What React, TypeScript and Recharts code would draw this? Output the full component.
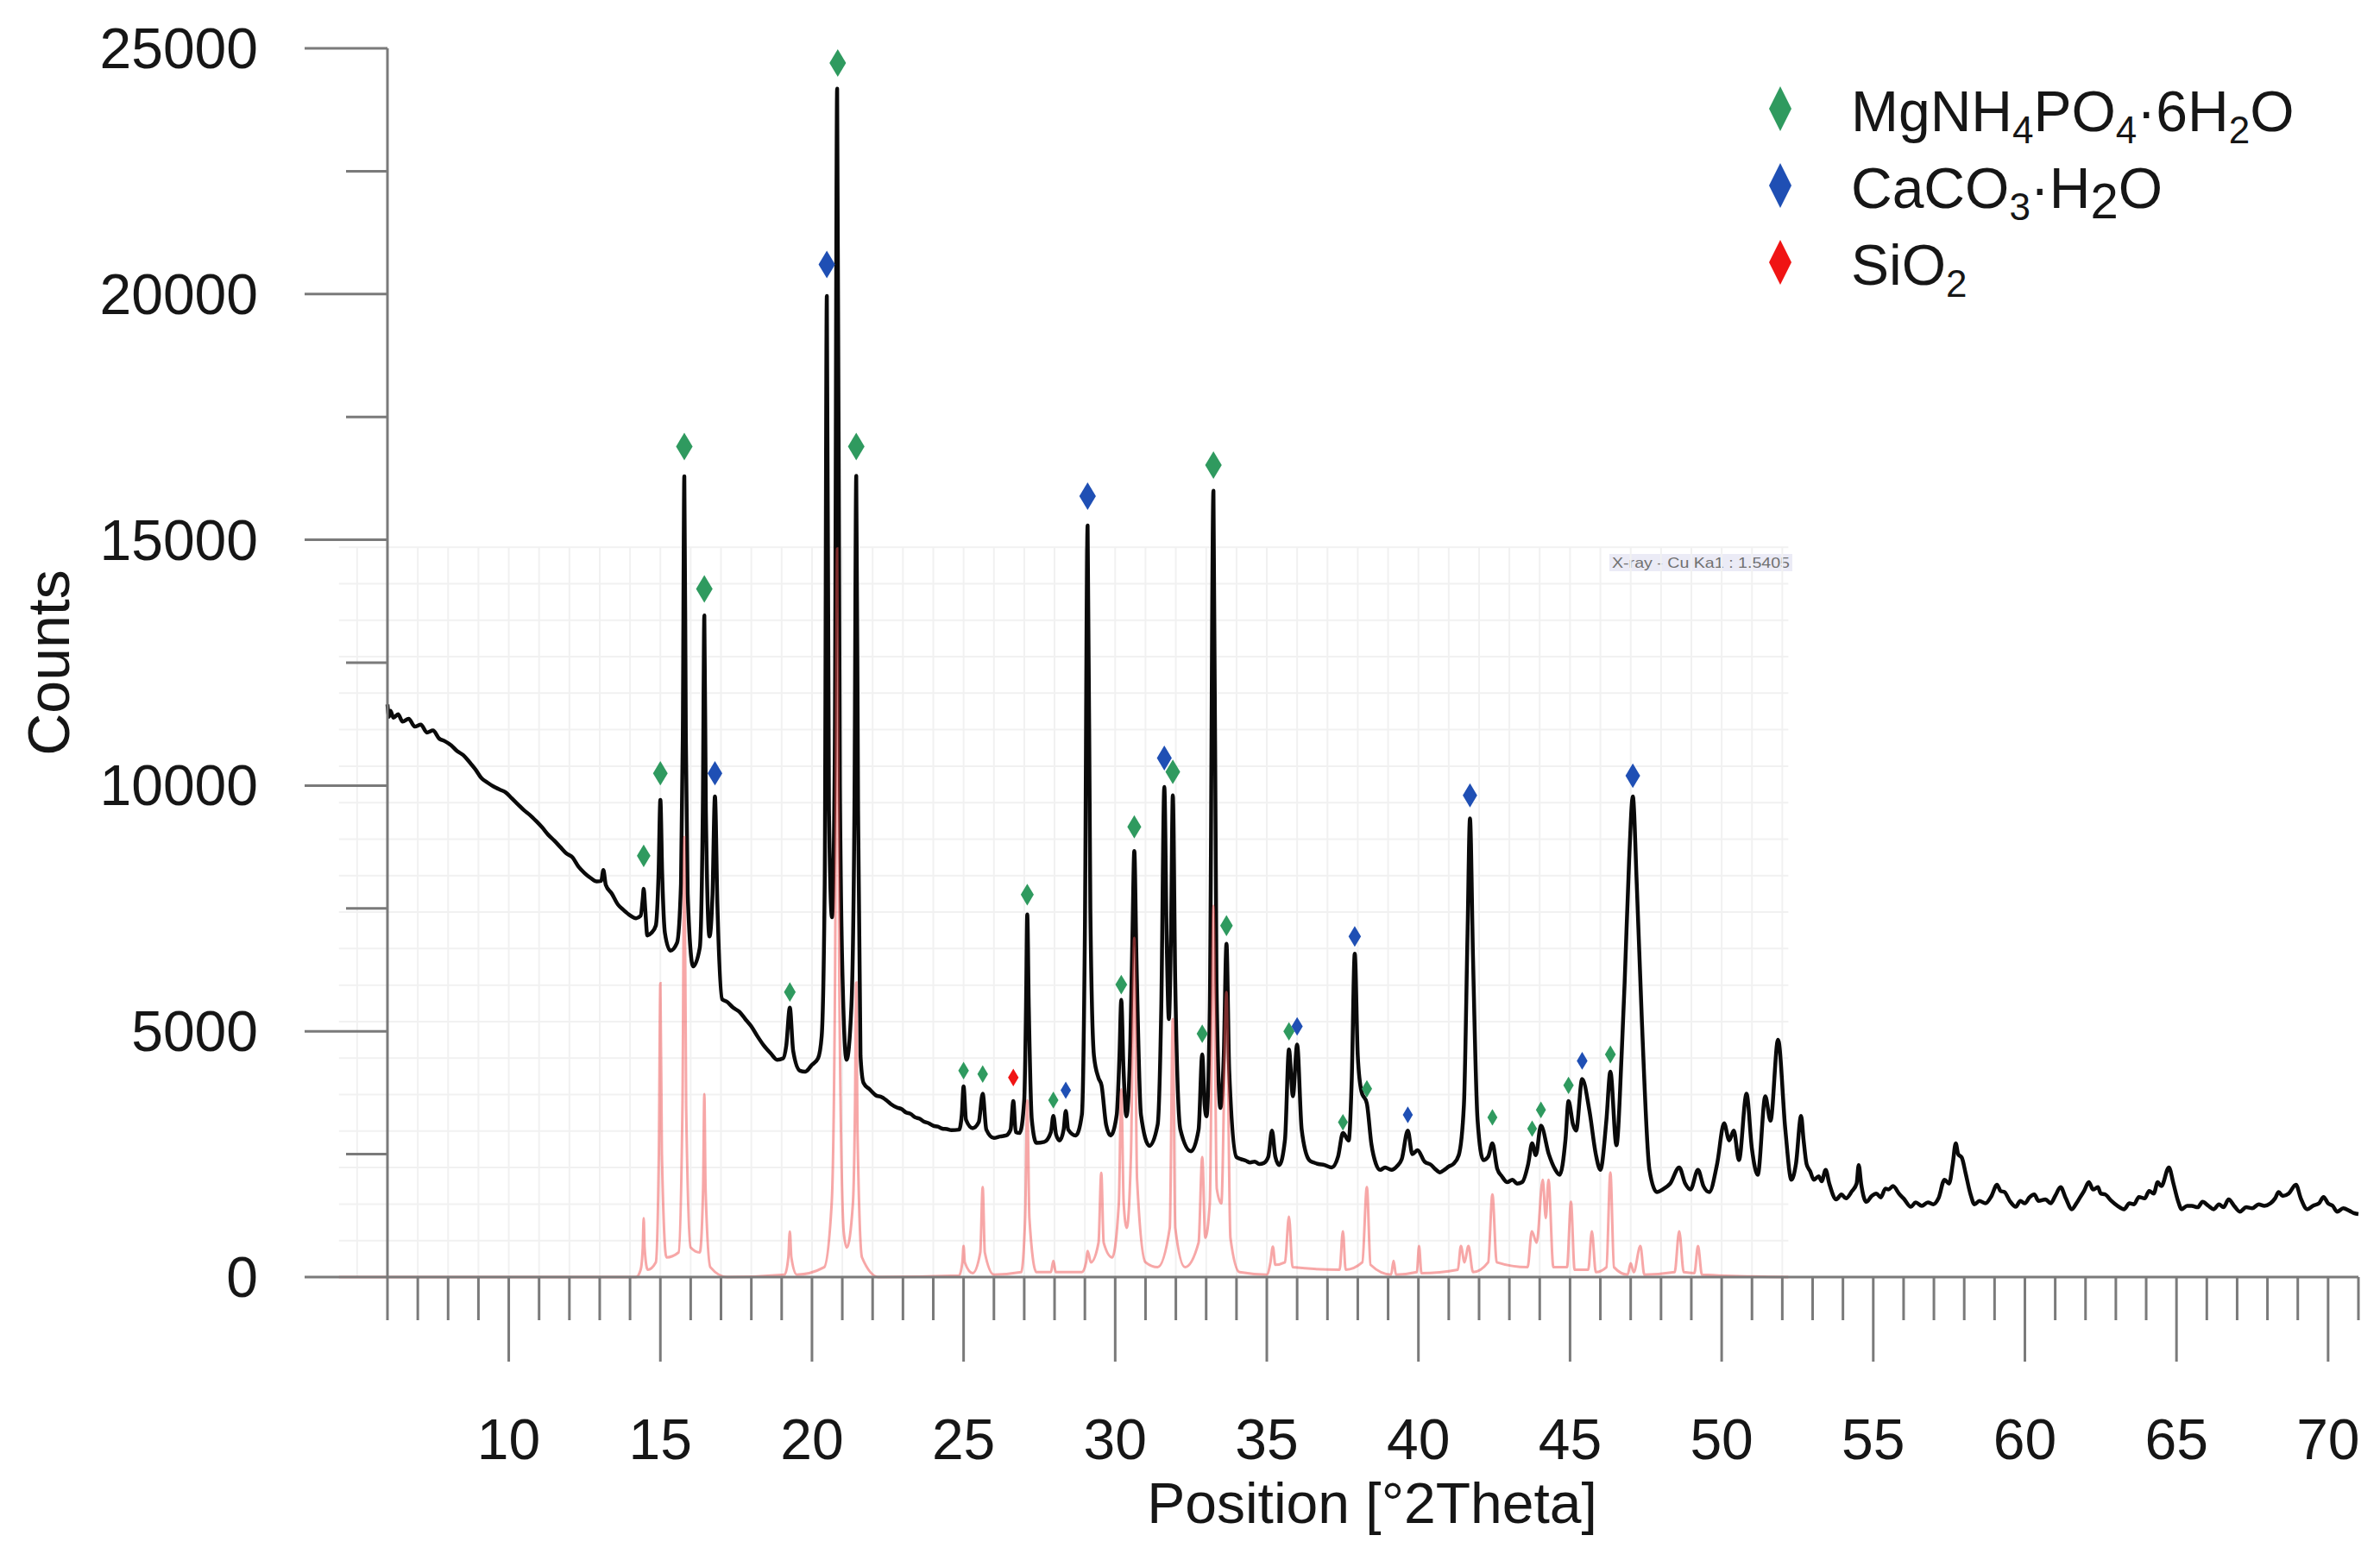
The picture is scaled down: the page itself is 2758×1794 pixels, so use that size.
import React from "react"
import { ComposedChart, Customized, Line, ReferenceLine, Scatter, XAxis, YAxis } from "recharts"

// measured pattern, [°2θ, counts]
const sampleScan: [number, number][] = [
    [6.0, 11650], [6.05, 11400], [6.1, 11520], [6.2, 11380], [6.35, 11450], [6.5, 11300], [6.7, 11360],
    [6.9, 11200], [7.1, 11240], [7.3, 11080], [7.5, 11120], [7.7, 10960], [7.9, 10900], [8.1, 10820],
    [8.3, 10700], [8.5, 10620], [8.7, 10480], [8.9, 10330], [9.1, 10150], [9.3, 10060], [9.5, 9980],
    [9.7, 9920], [9.9, 9860], [10.1, 9740], [10.3, 9620], [10.5, 9500], [10.7, 9400], [10.9, 9280],
    [11.1, 9150], [11.3, 9000], [11.5, 8880], [11.7, 8750], [11.9, 8620], [12.1, 8540], [12.3, 8350],
    [12.5, 8220], [12.7, 8120], [12.9, 8050], [13.05, 8060], [13.12, 8280], [13.2, 7980], [13.4, 7800],
    [13.6, 7580], [13.8, 7460], [14.0, 7360], [14.2, 7300], [14.35, 7350], [14.42, 7700], [14.45, 7900],
    [14.5, 7500], [14.57, 6950], [14.7, 7000], [14.85, 7150], [14.94, 8200], [15.0, 9710], [15.06, 8200],
    [15.15, 7000], [15.33, 6640], [15.55, 6800], [15.68, 8000], [15.74, 11000], [15.79, 16290],
    [15.84, 11000], [15.9, 7800], [16.08, 6320], [16.3, 6700], [16.4, 9500], [16.45, 13460], [16.5, 9500],
    [16.62, 6930], [16.72, 7800], [16.8, 9780], [16.88, 7600], [17.04, 5650], [17.2, 5600], [17.4, 5480],
    [17.6, 5400], [17.8, 5250], [18.0, 5100], [18.2, 4900], [18.4, 4720], [18.64, 4550], [18.85, 4420],
    [19.05, 4450], [19.15, 4700], [19.27, 5480], [19.38, 4600], [19.6, 4200], [19.78, 4180], [20.0, 4320],
    [20.2, 4450], [20.32, 4900], [20.42, 8000], [20.49, 19960], [20.56, 9500], [20.66, 7320], [20.75, 10500],
    [20.83, 24180], [20.92, 10000], [21.02, 5800], [21.14, 4420], [21.3, 5500], [21.4, 9500], [21.46, 16300],
    [21.52, 9500], [21.6, 4500], [21.7, 3950], [21.9, 3820], [22.1, 3700], [22.3, 3660], [22.45, 3600],
    [22.6, 3520], [22.8, 3450], [22.95, 3420], [23.1, 3350], [23.25, 3320], [23.4, 3250], [23.55, 3220],
    [23.7, 3160], [23.85, 3130], [24.0, 3080], [24.15, 3060], [24.3, 3020], [24.45, 3010], [24.6, 2990],
    [24.85, 3000], [24.94, 3300], [25.0, 3880], [25.08, 3200], [25.3, 3030], [25.5, 3150], [25.63, 3730],
    [25.75, 3000], [26.0, 2830], [26.2, 2860], [26.4, 2880], [26.55, 3000], [26.64, 3580], [26.72, 2950],
    [26.85, 2930], [27.0, 3600], [27.06, 5500], [27.1, 7380], [27.15, 5500], [27.25, 3200], [27.4, 2730],
    [27.66, 2750], [27.88, 2950], [27.96, 3280], [28.05, 2900], [28.17, 2780], [28.3, 3000], [28.37, 3380],
    [28.45, 3000], [28.7, 2880], [28.9, 3300], [29.0, 7000], [29.09, 15290], [29.18, 7500], [29.3, 4500],
    [29.45, 4050], [29.55, 3900], [29.7, 3100], [29.85, 2880], [30.05, 3300], [30.14, 4500], [30.2, 5640],
    [30.27, 4300], [30.37, 3270], [30.5, 4800], [30.57, 7000], [30.63, 8670], [30.7, 6500], [30.85, 3300],
    [31.13, 2670], [31.4, 3100], [31.52, 5500], [31.62, 9970], [31.7, 6800], [31.77, 5250], [31.84, 7000],
    [31.9, 9800], [31.98, 6000], [32.15, 3000], [32.5, 2560], [32.75, 3000], [32.87, 4530], [32.95, 3500],
    [33.01, 3270], [33.12, 5500], [33.24, 16000], [33.34, 6000], [33.47, 3440], [33.58, 4500], [33.67, 6780],
    [33.76, 4200], [34.0, 2440], [34.15, 2400], [34.3, 2370], [34.45, 2330], [34.6, 2350], [34.75, 2300],
    [34.9, 2320], [35.05, 2450], [35.17, 2980], [35.28, 2450], [35.41, 2280], [35.6, 2800], [35.73, 4630],
    [35.86, 3680], [36.0, 4730], [36.15, 3000], [36.4, 2380], [36.55, 2330], [36.7, 2300], [36.9, 2280],
    [37.14, 2230], [37.35, 2450], [37.51, 2930], [37.7, 2780], [37.8, 4000], [37.9, 6580], [38.0, 4500],
    [38.12, 3780], [38.3, 3530], [38.45, 2700], [38.6, 2300], [38.74, 2180], [38.9, 2230], [39.11, 2180],
    [39.3, 2260], [39.45, 2400], [39.65, 2980], [39.8, 2500], [39.97, 2580], [40.2, 2350], [40.42, 2280],
    [40.55, 2200], [40.71, 2130], [40.85, 2180], [41.0, 2250], [41.15, 2300], [41.33, 2480], [41.5, 3500],
    [41.62, 7000], [41.7, 9330], [41.8, 6500], [41.95, 3200], [42.14, 2380], [42.3, 2450], [42.44, 2720],
    [42.6, 2200], [42.75, 2050], [42.93, 1930], [43.1, 1980], [43.25, 1900], [43.42, 1930], [43.62, 2300],
    [43.75, 2720], [43.87, 2480], [44.04, 3080], [44.3, 2500], [44.5, 2200], [44.66, 2080], [44.85, 2800],
    [44.95, 3580], [45.1, 3100], [45.2, 2980], [45.4, 4030], [45.64, 3380], [45.85, 2500], [46.0, 2180],
    [46.2, 3200], [46.33, 4180], [46.53, 2680], [46.7, 4500], [46.8, 5980], [46.95, 8500], [47.07, 9780],
    [47.2, 8000], [47.37, 5200], [47.62, 2180], [47.86, 1730], [48.1, 1800], [48.3, 1900], [48.6, 2230],
    [48.8, 1900], [48.97, 1780], [49.22, 2180], [49.4, 1850], [49.59, 1730], [49.85, 2300], [50.08, 3130],
    [50.25, 2780], [50.4, 2980], [50.57, 2380], [50.82, 3730], [51.0, 2600], [51.19, 2080], [51.44, 3680],
    [51.61, 3180], [51.86, 4830], [52.1, 3000], [52.3, 1980], [52.45, 2300], [52.62, 3280], [52.7, 2800],
    [52.8, 2300], [52.92, 2150], [53.04, 1980], [53.2, 2050], [53.3, 1950], [53.43, 2180], [53.55, 1900],
    [53.78, 1580], [53.95, 1680], [54.1, 1600], [54.3, 1750], [54.45, 1900], [54.52, 2280], [54.6, 1900],
    [54.77, 1530], [54.95, 1650], [55.1, 1700], [55.25, 1620], [55.4, 1800], [55.5, 1780], [55.65, 1850],
    [55.87, 1680], [56.0, 1600], [56.24, 1430], [56.4, 1520], [56.6, 1450], [56.8, 1520], [56.98, 1480],
    [57.15, 1600], [57.35, 1980], [57.5, 1900], [57.62, 2300], [57.72, 2720], [57.8, 2500], [57.92, 2430],
    [58.05, 2100], [58.2, 1700], [58.34, 1480], [58.5, 1550], [58.7, 1500], [58.9, 1650], [59.08, 1880],
    [59.2, 1750], [59.33, 1730], [59.5, 1550], [59.7, 1430], [59.85, 1550], [60.0, 1500], [60.15, 1620],
    [60.31, 1680], [60.45, 1550], [60.68, 1580], [60.85, 1500], [61.0, 1650], [61.18, 1830], [61.35, 1600],
    [61.55, 1380], [61.7, 1500], [61.8, 1600], [61.95, 1750], [62.11, 1930], [62.25, 1780], [62.41, 1830],
    [62.5, 1700], [62.65, 1680], [62.85, 1550], [63.05, 1450], [63.27, 1380], [63.45, 1500], [63.6, 1480],
    [63.76, 1630], [63.95, 1600], [64.1, 1750], [64.25, 1700], [64.38, 1930], [64.5, 1850], [64.75, 2230],
    [64.9, 1900], [65.05, 1550], [65.17, 1380], [65.35, 1450], [65.5, 1450], [65.7, 1420], [65.86, 1530],
    [66.05, 1450], [66.23, 1380], [66.4, 1480], [66.55, 1420], [66.72, 1580], [66.9, 1450], [67.09, 1330],
    [67.3, 1420], [67.5, 1400], [67.71, 1480], [67.9, 1450], [68.1, 1500], [68.25, 1600], [68.37, 1730],
    [68.5, 1650], [68.7, 1700], [68.94, 1880], [69.1, 1600], [69.31, 1380], [69.5, 1450], [69.7, 1500],
    [69.85, 1630], [70.0, 1500], [70.15, 1450], [70.3, 1330], [70.5, 1400], [70.7, 1350], [70.85, 1300],
    [71.0, 1280],
]

// reference pattern (pink), [°2θ, counts]
const referencePattern: [number, number][] = [
    [6.0, 0], [14.2, 0], [14.35, 150], [14.42, 600], [14.45, 1200], [14.48, 600], [14.58, 150], [14.85, 300],
    [14.95, 2500], [15.0, 5980], [15.05, 2500], [15.2, 400], [15.6, 500], [15.73, 3500], [15.79, 8950],
    [15.85, 3500], [16.0, 600], [16.3, 500], [16.41, 1800], [16.45, 3720], [16.49, 1800], [16.65, 200],
    [17.2, 0], [19.1, 50], [19.22, 400], [19.27, 925], [19.32, 400], [19.5, 50], [20.4, 200], [20.65, 1500],
    [20.76, 6000], [20.83, 14820], [20.9, 6000], [21.05, 900], [21.15, 600], [21.35, 1500], [21.42, 3500],
    [21.46, 5990], [21.5, 3000], [21.65, 400], [22.2, 0], [24.85, 30], [24.96, 300], [25.0, 630], [25.04, 300],
    [25.3, 80], [25.55, 500], [25.63, 1830], [25.7, 500], [26.0, 50], [26.9, 100], [27.03, 1200], [27.1, 3600],
    [27.17, 1200], [27.4, 100], [27.88, 100], [27.96, 330], [28.04, 100], [28.9, 100], [29.04, 300],
    [29.09, 530], [29.2, 300], [29.45, 700], [29.54, 2120], [29.62, 700], [29.9, 400], [30.12, 1500],
    [30.2, 3820], [30.28, 1500], [30.38, 1000], [30.52, 2500], [30.63, 6900], [30.72, 2000], [31.0, 300],
    [31.4, 200], [31.8, 1000], [31.9, 5250], [31.98, 1000], [32.3, 200], [32.75, 700], [32.87, 2440],
    [32.97, 800], [33.12, 1500], [33.24, 7550], [33.35, 1800], [33.5, 1500], [33.67, 5800], [33.8, 800],
    [34.1, 100], [35.0, 50], [35.12, 300], [35.2, 620], [35.28, 250], [35.6, 300], [35.73, 1230], [35.85, 200],
    [37.4, 150], [37.51, 930], [37.6, 150], [38.15, 300], [38.3, 1830], [38.42, 250], [39.1, 50], [39.18, 330],
    [39.26, 50], [39.95, 100], [40.02, 630], [40.1, 80], [41.3, 150], [41.4, 630], [41.52, 300], [41.65, 630],
    [41.8, 100], [42.3, 300], [42.44, 1680], [42.58, 300], [43.6, 200], [43.74, 930], [43.9, 700],
    [44.1, 1980], [44.2, 1200], [44.29, 1980], [44.45, 200], [44.9, 200], [45.03, 1530], [45.15, 150],
    [45.6, 150], [45.72, 930], [45.85, 100], [46.2, 200], [46.33, 2130], [46.45, 200], [46.9, 50], [47.0, 280],
    [47.1, 100], [47.32, 630], [47.45, 50], [48.45, 100], [48.6, 930], [48.75, 100], [49.1, 80], [49.22, 630],
    [49.35, 50], [52.2, 0],
]

// phase markers, [°2θ, counts]
const struvitePeaks: [number, number][] = [
    [14.45, 8570], [15.0, 10250], [15.79, 16900], [16.45, 14000], [19.27, 5800], [20.85, 24700],
    [21.46, 16900], [25.0, 4200], [25.63, 4130], [27.1, 7780], [27.96, 3600], [30.2, 5950], [30.63, 9160],
    [31.9, 10280], [32.87, 4950], [33.24, 16520], [33.67, 7150], [35.73, 5000], [37.51, 3150], [38.3, 3830],
    [42.44, 3250], [43.75, 3020], [44.04, 3400], [44.95, 3900], [46.33, 4530],
]
const monohydrocalcitePeaks: [number, number][] = [
    [16.8, 10250], [20.49, 20600], [28.37, 3800], [29.09, 15890], [31.62, 10560], [36.0, 5100],
    [37.9, 6930], [39.65, 3300], [41.7, 9800], [45.4, 4400], [47.07, 10200],
]
const quartzPeaks: [number, number][] = [[26.64, 4060]]

const xTickLabels = [10, 15, 20, 25, 30, 35, 40, 45, 50, 55, 60, 65, 70]
const yTickLabels = [0, 5000, 10000, 15000, 20000, 25000]

const xAxisTicks = Array.from({ length: 66 }, (_, i) => 6 + i)
const yAxisTicks = Array.from({ length: 11 }, (_, i) => i * 2500)

// HighScore grid panel behind the pattern
const gridLeft = 4.4
const gridRight = 52.2
const gridTop = 14850
const gridColumns = Array.from({ length: 48 }, (_, i) => 5 + i)
const gridRows = Array.from({ length: 20 }, (_, i) => (i + 1) * (gridTop / 20))

const toPoints = (rows: [number, number][]) => rows.map(([x, y]) => ({ x, y }))

const FONT = "'Liberation Sans', Arial, Helvetica, sans-serif"
const AXIS_GRAY = "#7a7a7a"
const GREEN = "#2f9a5f"
const BLUE = "#1f4fb4"
const RED = "#f01414"
const GRID = "#f1f1f1"

function XTick(props: any) {
    const { x, y, payload } = props
    const v = payload.value
    const major = xTickLabels.includes(v)
    return (
        <g>
            <line x1={x} x2={x} y1={y} y2={y + (major ? 98 : 50)} stroke={AXIS_GRAY} strokeWidth={3} />
            {major && (
                <text x={x} y={y + 211} textAnchor="middle" fontSize={66} fontFamily={FONT} fill="#161616">
                    {v}
                </text>
            )}
        </g>
    )
}

function YTick(props: any) {
    const { x, y, payload } = props
    const v = payload.value
    const major = yTickLabels.includes(v)
    return (
        <g>
            <line x1={x - (major ? 96 : 48)} x2={x} y1={y} y2={y} stroke={AXIS_GRAY} strokeWidth={3} />
            {major && (
                <text x={x - 150} y={y + 23} textAnchor="end" fontSize={66} fontFamily={FONT} fill="#161616">
                    {v}
                </text>
            )}
        </g>
    )
}

function Diamond(props: any) {
    const { cx, cy, fill, payload } = props
    if (cx == null || cy == null) return null
    const t = Math.max(0, Math.min(1, (payload.y - 3000) / 10000))
    const h = 19 + 13 * t
    const w = h * 0.6
    return <path d={`M${cx},${cy - h / 2} L${cx + w / 2},${cy} L${cx},${cy + h / 2} L${cx - w / 2},${cy} Z`} fill={fill} />
}

function Overlay() {
    const rows = [
        { color: GREEN, y: 118 },
        { color: BLUE, y: 207 },
        { color: RED, y: 296 },
    ]
    return (
        <g fontFamily={FONT} fill="#161616">
            {rows.map(r => (
                <path key={r.y} d={`M2055,${r.y - 26} L2068,${r.y} L2055,${r.y + 26} L2042,${r.y} Z`} fill={r.color} />
            ))}
            <text x={2137} y={144} fontSize={66}>
                MgNH<tspan fontSize={44} dy={14}>4</tspan>
                <tspan dy={-14}>PO</tspan>
                <tspan fontSize={44} dy={14}>4</tspan>
                <tspan dy={-14}>·6H</tspan>
                <tspan fontSize={44} dy={14}>2</tspan>
                <tspan dy={-14}>O</tspan>
            </text>
            <text x={2137} y={233} fontSize={66}>
                CaCO<tspan fontSize={44} dy={14}>3</tspan>
                <tspan dy={-14}>·H</tspan>
                <tspan fontSize={58} dy={12}>2</tspan>
                <tspan dy={-12}>O</tspan>
            </text>
            <text x={2137} y={322} fontSize={66}>
                SiO<tspan fontSize={44} dy={14}>2</tspan>
            </text>

            <text transform="translate(72,760) rotate(-90)" textAnchor="middle" fontSize={68}>Counts</text>
            <text x={1582} y={1757} textAnchor="middle" fontSize={66}>Position [°2Theta]</text>

            <rect x={1857} y={634} width={212} height={20} fill="#ebebf6" />
            <text x={1860} y={650} fontSize={17} fill="#707070" textLength={206} lengthAdjust="spacingAndGlyphs">
                X-ray - Cu Ka1 : 1.5405
            </text>
        </g>
    )
}

export default function App() {
    const scan = toPoints(sampleScan)
    const reference = toPoints(referencePattern)

    return (
        <div style={{ width: 2742, height: 1780, background: "#fff" }}>
            <ComposedChart width={2742} height={1780} margin={{ top: 48, right: 17, bottom: 8, left: 0 }}>
                {gridColumns.map(c => (
                    <ReferenceLine key={`gc${c}`} segment={[{ x: c, y: 0 }, { x: c, y: gridTop }]} ifOverflow="visible" stroke={GRID} strokeWidth={2} />
                ))}
                {gridRows.map(r => (
                    <ReferenceLine key={`gr${r}`} segment={[{ x: gridLeft, y: r }, { x: gridRight, y: r }]} ifOverflow="visible" stroke={GRID} strokeWidth={2} />
                ))}
                <ReferenceLine segment={[{ x: gridLeft, y: 0 }, { x: 6, y: 0 }]} ifOverflow="visible" stroke="rgb(240,80,80)" strokeOpacity={0.5} strokeWidth={3} />

                <XAxis
                    type="number"
                    dataKey="x"
                    domain={[6, 71]}
                    ticks={xAxisTicks}
                    interval={0}
                    tickSize={0}
                    tickMargin={0}
                    tickLine={false}
                    tick={<XTick />}
                    height={300}
                    axisLine={{ stroke: AXIS_GRAY, strokeWidth: 3 }}
                />
                <YAxis
                    type="number"
                    dataKey="y"
                    domain={[0, 25000]}
                    ticks={yAxisTicks}
                    interval={0}
                    tickSize={0}
                    tickMargin={0}
                    tickLine={false}
                    tick={<YTick />}
                    width={441}
                    axisLine={{ stroke: AXIS_GRAY, strokeWidth: 3 }}
                />

                <Line data={scan} dataKey="y" type="monotone" stroke="#0a0a0a" strokeWidth={4.5} strokeLinejoin="round" dot={false} activeDot={false} isAnimationActive={false} />
                <Line data={reference} dataKey="y" type="monotone" stroke="rgb(240,80,80)" strokeOpacity={0.5} strokeWidth={3} dot={false} activeDot={false} isAnimationActive={false} />

                <Scatter data={toPoints(struvitePeaks)} dataKey="y" fill={GREEN} shape={<Diamond />} isAnimationActive={false} />
                <Scatter data={toPoints(monohydrocalcitePeaks)} dataKey="y" fill={BLUE} shape={<Diamond />} isAnimationActive={false} />
                <Scatter data={toPoints(quartzPeaks)} dataKey="y" fill={RED} shape={<Diamond />} isAnimationActive={false} />

                <Customized component={<Overlay />} />
            </ComposedChart>
        </div>
    )
}
